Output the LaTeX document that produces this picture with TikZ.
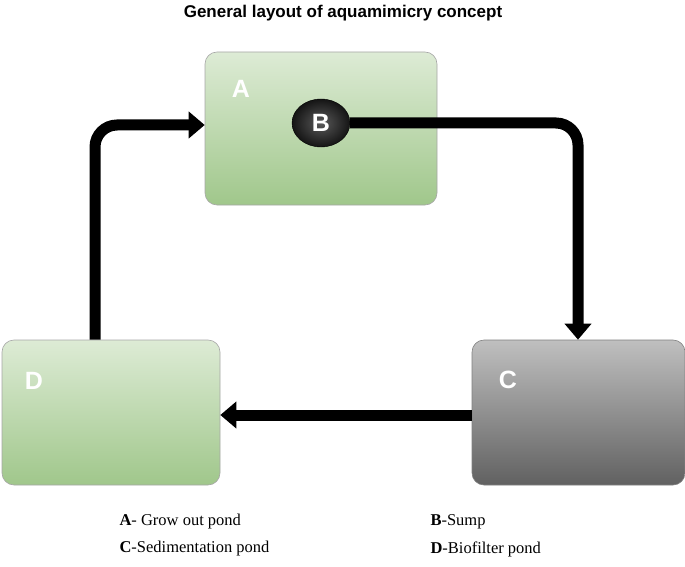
\documentclass[tikz,border=0pt]{standalone}
\usepackage{fontspec}
\setmainfont{Liberation Serif}
\newfontfamily\sansf{Liberation Sans}
\usetikzlibrary{arrows.meta,shapes.geometric}
\definecolor{gtop}{HTML}{DDEBD5}
\definecolor{gbot}{HTML}{A0C78B}
\begin{document}
\begin{tikzpicture}[x=1pt,y=-1pt,
 box/.style={draw=gray!70,rounded corners=12pt,line width=0.6pt},
 gbox/.style={box,top color=gtop,bottom color=gbot},
 lbl/.style={font=\sansf\bfseries\fontsize{25}{28}\selectfont,text=white},
 flow/.style={line width=11pt,rounded corners=22pt,-{Triangle[length=16pt,width=26pt]}},
 leg/.style={font=\fontsize{16.5}{19}\selectfont,anchor=west}]
\useasboundingbox (0,0) rectangle (685,567);
\node[font=\sansf\bfseries\fontsize{17}{20}\selectfont] (title) at (343,13) {General layout of aquamimicry concept};
\node[gbox,minimum width=232pt,minimum height=153pt] (A) at (321,128.5) {};
\node[box,top color=gray!50,bottom color=black!62,draw=gray,minimum width=213pt,minimum height=145pt] (C) at (578.5,412.5) {};
\node[gbox,minimum width=218pt,minimum height=145pt] (D) at (111,412.5) {};
\node[lbl] (Al) at (241,89) {A};
\node[lbl] (Cl) at (508,380) {C};
\node[lbl] (Dl) at (34,381) {D};
\node[ellipse,draw=black,inner color=black!65,outer color=black!92,minimum width=58pt,minimum height=48pt,lbl,inner sep=0pt] (B) at (321,123) {B};
\coordinate (c1) at (578,123);
\coordinate (d1) at (95,125);
\draw[flow] (B.east) -- (c1) -- (C.north -| c1);
\draw[flow,rounded corners=0pt] (C.west |- 0,415) -- (D.east |- 0,415);
\draw[flow] (D.north -| d1) -- (d1) -- (A.west |- d1);
\node[leg] (l1) at (116,522) {\textbf{A}- Grow out pond};
\node[leg] (l2) at (116,549) {\textbf{C}-Sedimentation pond};
\node[leg] (l3) at (427,522) {\textbf{B}-Sump};
\node[leg] (l4) at (427,549) {\textbf{D}-Biofilter pond};
\end{tikzpicture}
\end{document}
